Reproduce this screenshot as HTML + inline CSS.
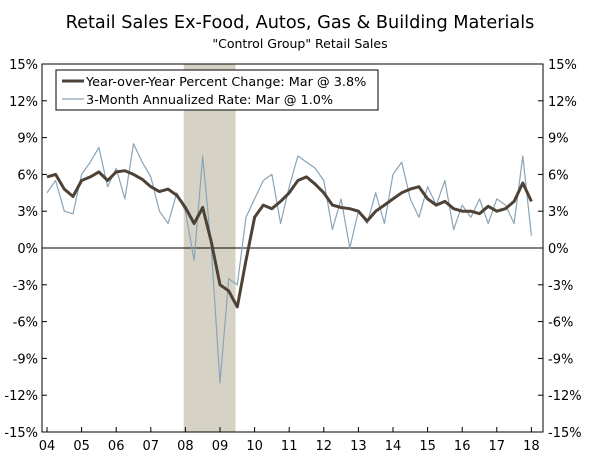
<!DOCTYPE html>
<html><head><meta charset="utf-8"><style>
body{margin:0;background:#fff;font-family:"DejaVu Sans","Liberation Sans",sans-serif}
svg{display:block}
text{font-family:"DejaVu Sans","Liberation Sans",sans-serif;fill:#000}
</style></head><body>
<svg id="c" width="600" height="458">
<text x="300" y="28" text-anchor="middle" font-size="17.7">Retail Sales Ex-Food, Autos, Gas &amp; Building Materials</text>
<text x="300" y="48" text-anchor="middle" font-size="12.5">"Control Group" Retail Sales</text>
<g id="plot"></g>
</svg>
<script>
const yoyValues=[5.8,6.0,4.8,4.2, 5.5,5.8,6.2,5.5, 6.2,6.3,6.0,5.6, 5.0,4.6,4.8,4.3, 3.3,2.0,3.3,0.5, -3.0,-3.5,-4.8,-1.0, 2.5,3.5,3.2,3.8, 4.5,5.5,5.8,5.2, 4.5,3.5,3.3,3.2, 3.0,2.2,3.0,3.5, 4.0,4.5,4.8,5.0, 4.0,3.5,3.8,3.2, 3.0,3.0,2.8,3.4, 3.0,3.2,3.8,5.3, 3.8];
const annValues=[4.5,5.5,3.0,2.8, 6.0,7.0,8.2,5.0, 6.5,4.0,8.5,7.0, 5.8,3.0,2.0,4.5, 3.0,-1.0,7.5,0.0, -11.0,-2.5,-3.0,2.5, 4.0,5.5,6.0,2.0, 5.0,7.5,7.0,6.5, 5.5,1.5,4.0,0.0, 3.0,2.0,4.5,2.0, 6.0,7.0,4.0,2.5, 5.0,3.5,5.5,1.5, 3.5,2.5,4.0,2.0, 4.0,3.5,2.0,7.5, 1.0];
const yTicks=[15,12,9,6,3,0,-3,-6,-9,-12,-15];
const xLabels=["04","05","06","07","08","09","10","11","12","13","14","15","16","17","18"];
const recession=[2007.95,2009.45];
const startYear=2004, step=0.25;

const L=42,R=543,T=64,B=432;
const ns="http://www.w3.org/2000/svg";
const g=document.getElementById('plot');
const X=t=>47+(t-2004)*34.6;
const Y=v=>T+(15-v)/30*(B-T);
function el(tag,a,p){const e=document.createElementNS(ns,tag);for(const k in a)e.setAttribute(k,a[k]);(p||g).appendChild(e);return e;}

const rec=el('rect',{x:X(recession[0]),y:T,width:X(recession[1])-X(recession[0]),height:B-T,fill:'#d6d3c6'});



const frame=el('rect',{x:L,y:T,width:R-L,height:B-T,fill:'none',stroke:'#000','stroke-width':1});



yTicks.forEach(v=>{
  const y=Y(v);
  el('line',{x1:L,x2:L+5,y1:y,y2:y,stroke:'#000'});
  el('line',{x1:R-5,x2:R,y1:y,y2:y,stroke:'#000'});
  const lab=v+'%';
  const a=el('text',{x:L-4,y:y+5,'text-anchor':'end','font-size':13});a.textContent=lab;
  
  
  const b=el('text',{x:R+5,y:y+5,'font-size':13});b.textContent=lab;
  
  
});
const zl=el('line',{x1:L,x2:R,y1:Y(0),y2:Y(0),stroke:'#000','stroke-width':1});



xLabels.forEach((s,i)=>{
  const x=X(2004+i);
  el('line',{x1:x,x2:x,y1:B,y2:B-5,stroke:'#000'});
  const t=el('text',{x:x,y:B+18,'text-anchor':'middle','font-size':13});t.textContent=s;
  
  
});

function path(vals,color,w,name){
  const d=vals.map((v,i)=>(i?'L':'M')+X(startYear+i*step).toFixed(1)+','+Y(v).toFixed(1)).join('');
  const p=el('path',{d:d,fill:'none',stroke:color,'stroke-width':w,'stroke-linejoin':'round'});
  
  
}
path(annValues,'#8aa4b8',1.2,'annualized-rate-line');
path(yoyValues,'#4e4237',3,'yoy-line');

const lg=el('rect',{x:56,y:70,width:322,height:40,fill:'#fff',stroke:'#000'});


el('line',{x1:62,x2:84,y1:81,y2:81,stroke:'#4e4237','stroke-width':3});
el('line',{x1:62,x2:84,y1:99,y2:99,stroke:'#8aa4b8','stroke-width':1.2});
const l1=el('text',{x:86,y:86,'font-size':12.8});l1.textContent='Year-over-Year Percent Change: Mar @ 3.8%';


const l2=el('text',{x:86,y:104,'font-size':12.8});l2.textContent='3-Month Annualized Rate: Mar @ 1.0%';


</script>
</body></html>
